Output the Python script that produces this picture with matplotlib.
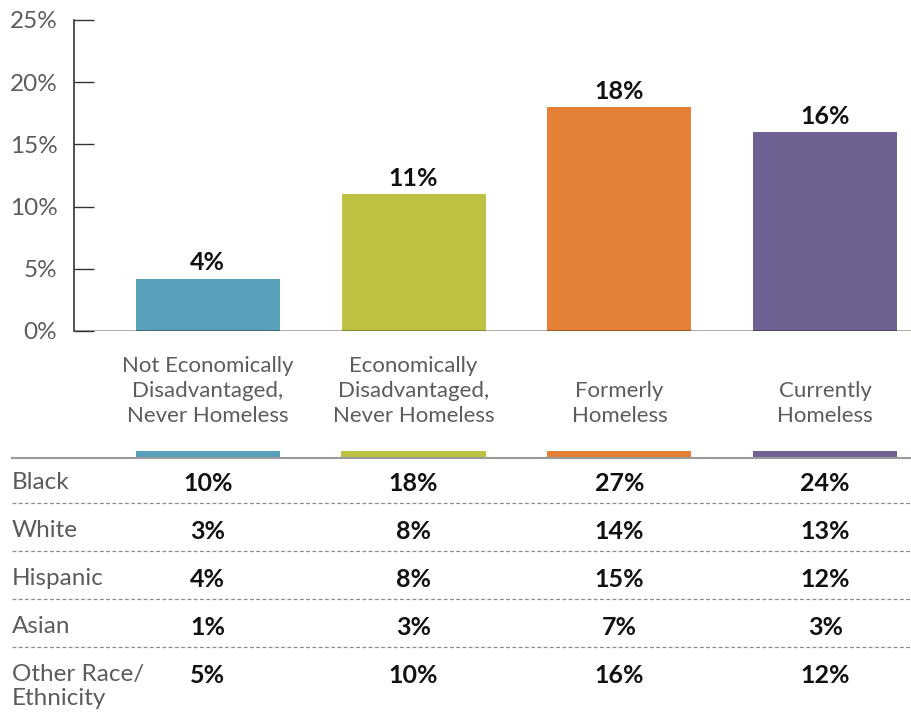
import matplotlib.pyplot as plt
from matplotlib import transforms

plt.rcParams['font.family'] = ['Lato', 'DejaVu Sans']

groups = ['Not Economically\nDisadvantaged,\nNever Homeless',
          'Economically\nDisadvantaged,\nNever Homeless',
          'Formerly\nHomeless',
          'Currently\nHomeless']
overall = [4.2, 11, 18, 16]
colors = ['#57a0ba', '#bdc242', '#e58137', '#6f6293']

races = ['Black', 'White', 'Hispanic', 'Asian', 'Other Race/\nEthnicity']
by_race = [
    [10, 18, 27, 24],
    [3, 8, 14, 13],
    [4, 8, 15, 12],
    [1, 3, 7, 3],
    [5, 10, 16, 12],
]

gray_text = '#5c5c5c'
x = list(range(len(groups)))
xlim = (-0.65, 3.417)

fig = plt.figure(figsize=(9.11, 7.23), dpi=100)

# top: overall bar chart
ax = fig.add_axes([74 / 911, 0.5422, 1 - 74 / 911, 0.4302])
ax.bar(x, overall, width=0.7, color=colors, zorder=2)
for xi, v in zip(x, overall):
    ax.text(xi, v + 0.35, f'{v:.0f}%', ha='center', va='bottom',
            fontsize=18, fontweight='bold', color='#111111')
ax.axhline(0, color='#000000', alpha=0.35, lw=2, zorder=3)
ax.set_xlim(*xlim)
ax.set_ylim(0, 25)
ax.set_yticks([0, 5, 10, 15, 20, 25])
ax.set_yticklabels([f'{t}%' for t in [0, 5, 10, 15, 20, 25]])
ax.tick_params(axis='y', direction='in', length=14.5, width=1, color='#333333',
               labelsize=17.5, labelcolor=gray_text, pad=12)
ax.set_xticks([])
# group names sit on a common last-line baseline under the bars
for xi, name in zip(x, groups):
    ax.text(xi, -0.2926, name, transform=ax.get_xaxis_transform(),
            ha='center', va='baseline', fontsize=16, color=gray_text,
            linespacing=1.3)
for s in ['top', 'right', 'bottom']:
    ax.spines[s].set_visible(False)
ax.spines['left'].set_color('#333333')
ax.spines['left'].set_linewidth(1.2)

# bottom: breakdown table by race/ethnicity
tb = fig.add_axes([0, 0, 1, 277 / 723])
fig_x = -0.65 - 74 / 206
tb.set_xlim(fig_x, 3.417)
tb.set_ylim(5.0625, -0.708)
tb.axis('off')

tb.bar(x, 0.125, bottom=-0.604, width=0.7, color=colors)
tb.axhline(-0.46, xmin=12 / 911, xmax=1, color='#9a9a9a', lw=1.5)
for i in range(len(races) - 1):
    tb.axhline(i + 0.48, xmin=12 / 911, xmax=1, color='#8a8a8a', lw=0.9,
               linestyle=(0, (3, 2)))

lab_tr = transforms.blended_transform_factory(fig.transFigure, tb.transData)
for i, (race, row) in enumerate(zip(races, by_race)):
    tb.text(12 / 911, i - 0.17, race, transform=lab_tr, ha='left', va='top',
            fontsize=17.5, color=gray_text, linespacing=1.2)
    for xi, v in zip(x, row):
        tb.text(xi, i - 0.17, f'{v}%', ha='center', va='top',
                fontsize=18, fontweight='bold', color='#111111')

fig.savefig('out.png', dpi=100)
